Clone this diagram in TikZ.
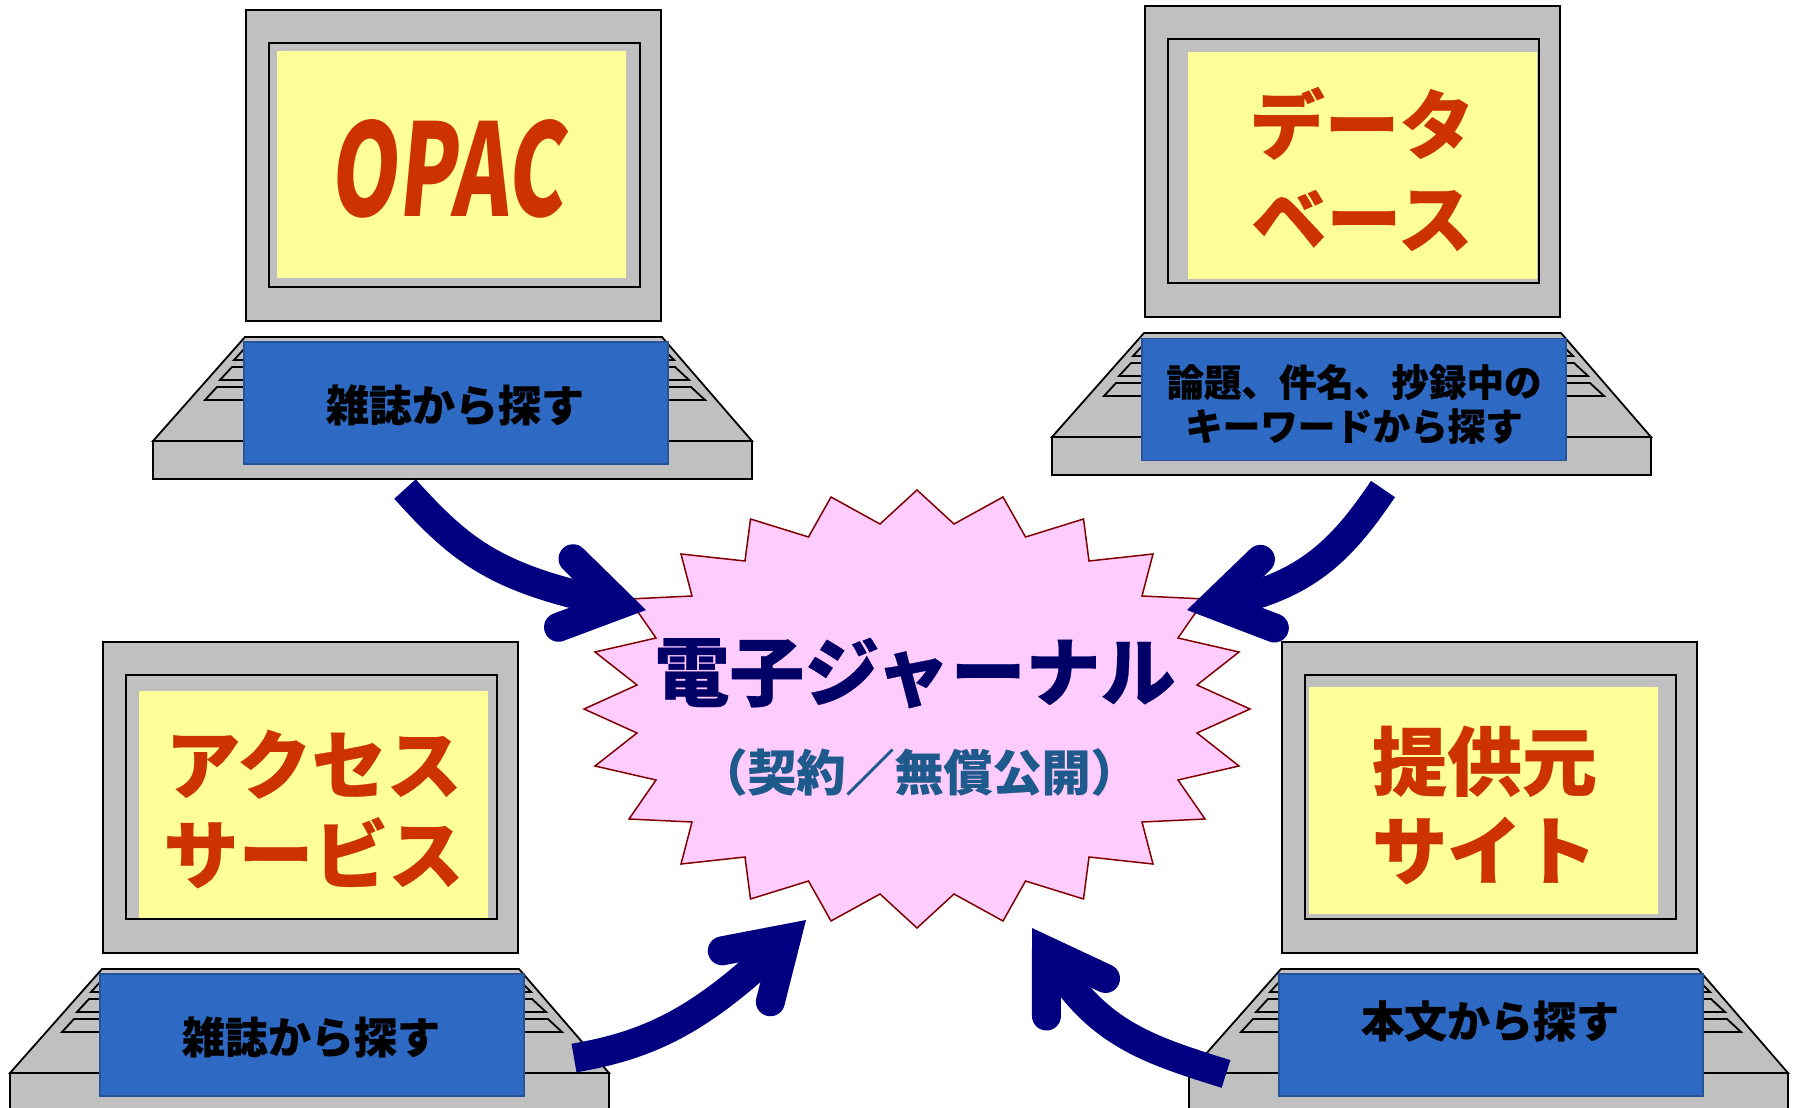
\documentclass[tikz,border=0pt]{standalone}
\usepackage{fontspec}
\usepackage{xcolor}
\usetikzlibrary{arrows.meta,positioning}
\newfontfamily\popfont[UprightFont=* Black,FakeBold=0.4]{Noto Sans CJK JP}
\newfontfamily\popslant[UprightFont=* Black,FakeSlant=0.14]{Noto Sans CJK JP}
\definecolor{shellgray}{RGB}{192,192,192}
\definecolor{screenyellow}{RGB}{255,255,153}
\definecolor{titleorange}{RGB}{204,51,0}
\definecolor{keyblue}{RGB}{46,106,196}
\definecolor{keyedge}{RGB}{38,84,150}
\definecolor{burstpink}{RGB}{255,204,255}
\definecolor{burstedge}{RGB}{128,0,0}
\definecolor{flownavy}{RGB}{0,0,128}
\definecolor{journalnavy}{RGB}{0,0,102}
\definecolor{notesteel}{RGB}{31,90,140}

\begin{document}
\begin{tikzpicture}[
    x=1pt, y=-1pt,
    shell/.style={draw=black, line width=1.8pt, fill=shellgray},
    screen/.style={rectangle, fill=screenyellow, minimum width=349pt, minimum height=227pt, inner sep=0pt},
    title/.style={inner sep=0pt, align=center, text=titleorange, font=\popfont\fontsize{75}{86}\selectfont},
    keybox/.style={rectangle, draw=keyedge, line width=1.5pt, fill=keyblue, minimum width=424pt, minimum height=122pt, inner sep=0pt},
    keytext/.style={inner sep=0pt, align=center, font=\popfont\fontsize{43}{44}\selectfont},
    flow/.style={draw=flownavy, line width=29pt, -{Straight Barb[length=55pt, width=70pt, line cap=round, line join=miter]}},
    laptop/.pic={
        \draw[shell] (0,0) rectangle (415,311);
        \draw[shell] (23,33) rectangle (394,277);
        \draw[shell] (-1,327) -- (416,327) -- (506,431) -- (-93,431) -- cycle;
        \draw[shell] (-93,431) rectangle (506,469);
        \draw[shell, fill=none] (-1,338) -- (-12,350) -- (428,350) -- (416,338) -- cycle;
        \draw[shell, fill=none] (-14,357) -- (-26,370) -- (443,370) -- (429,357) -- cycle;
        \draw[shell, fill=none] (-29,377) -- (-41,390) -- (459,390) -- (445,377) -- cycle;
    }
]
    \useasboundingbox (0,0) rectangle (1799,1108);

    % four laptops
    \pic (opac) at (246,10) {laptop};
    \pic (base) at (1145,6) {laptop};
    \pic (access) at (103,642) {laptop};
    \pic (site) at (1282,642) {laptop};

    % screens
    \node[screen] (opacscreen) at (451.5,164.5) {};
    \node[screen] (basescreen) at (1362,165.5) {};
    \node[screen] (accessscreen) at (313.5,804) {};
    \node[screen] (sitescreen) at (1483.5,800.5) {};
    \node[title, font=\popslant\fontsize{128}{130}\selectfont] (opactitle) at (447,169) {\scalebox{.67}[1]{OPAC}};
    \node[title] (basetitle) at (1362,169) {データ\\[8pt]ベース};
    \node[title] (accesstitle) at (313.5,809) {アクセス\\[4pt]サービス};
    \node[title] (sitetitle) at (1484.5,805) {提供元\\[3pt]サイト};

    % keyboards
    \node[keybox] (opackeys) at (456,403) {};
    \node[keybox] (basekeys) at (1354,399.5) {};
    \node[keybox] (accesskeys) at (312,1035) {};
    \node[keybox] (sitekeys) at (1491,1035) {};
    \node[keytext] (opactext) at (455,405) {雑誌から探す};
    \node[keytext, font=\popfont\fontsize{37.5}{44}\selectfont] (basetext) at (1354,404) {論題、件名、抄録中の\\キーワードから探す};
    \node[keytext] (accesstext) at (311,1037) {雑誌から探す};
    \node[keytext] (sitetext) at (1490,1021) {本文から探す};

    % burst
    \draw[draw=burstedge, line width=1.5pt, fill=burstpink]
        (917,490) -- (954,524) -- (1003,497) -- (1025.5,537) -- (1083.5,519) -- (1089,561)
        -- (1153,554) -- (1142,596) -- (1205,599) -- (1178,638) -- (1239,652) -- (1197,685)
        -- (1250,709) -- (1197,733) -- (1239,766) -- (1178,780) -- (1205,819) -- (1142,822)
        -- (1153,864) -- (1089,857) -- (1083.5,899) -- (1025.5,881) -- (1003,921) -- (954,894)
        -- (917,928) -- (880,894) -- (831,921) -- (808.5,881) -- (750.5,899) -- (745,857)
        -- (681,864) -- (692,822) -- (629,819) -- (656,780) -- (595,766) -- (637,733)
        -- (584,709) -- (637,685) -- (595,652) -- (656,638) -- (629,599) -- (692,596)
        -- (681,554) -- (745,561) -- (750.5,519) -- (808.5,537) -- (831,497) -- (880,524) -- cycle;
    \node[text=journalnavy, inner sep=0pt, font=\popfont\fontsize{75}{76}\selectfont] (journal) at (915,673) {電子ジャーナル};
    \node[text=notesteel, inner sep=0pt, font=\popfont\fontsize{49}{50}\selectfont] (journalnote) at (919,772) {（契約／無償公開）};

    % arrows
    \coordinate (opacfoot) at (405,489);
    \coordinate (opactip) at (646,610);
    \coordinate (basefoot) at (1383,489);
    \coordinate (basetip) at (1187,610);
    \coordinate (accessfoot) at (574,1058);
    \coordinate (accesstip) at (806,920);
    \coordinate (sitefoot) at (1226,1074);
    \coordinate (sitetip) at (1032,928);
    \draw[flow] (opacfoot) .. controls (460,550) and (495,578) .. (opactip);
    \draw[flow] (basefoot) .. controls (1345,545) and (1310,585) .. (basetip);
    \draw[flow] (accessfoot) .. controls (650,1045) and (700,1020) .. (accesstip);
    \draw[flow] (sitefoot) .. controls (1150,1050) and (1100,1035) .. (sitetip);
\end{tikzpicture}
\end{document}
